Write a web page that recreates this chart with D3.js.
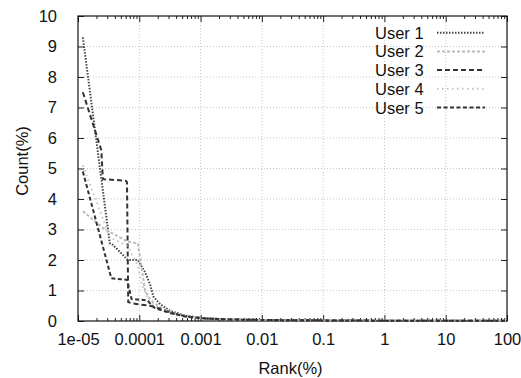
<!DOCTYPE html>
<html>
<head>
<meta charset="utf-8">
<script src="https://cdn.jsdelivr.net/npm/d3@7"></script>
<style>
  body { margin: 0; background: #fff; }
  text { font-family: "Liberation Sans", Arial, sans-serif; }
</style>
</head>
<body>
<svg id="chart" width="521" height="378"></svg>
<script>
const userNames = ["User 1", "User 2", "User 3", "User 4", "User 5"];

const xTickValues = [1e-5, 1e-4, 1e-3, 1e-2, 0.1, 1, 10, 100];
const xTickLabels = ["1e-05", "0.0001", "0.001", "0.01", "0.1", "1", "10", "100"];
const yTickValues = [0, 1, 2, 3, 4, 5, 6, 7, 8, 9, 10];

const user1Rank = [1.2e-5, 3.3e-5, 3.7e-5, 6.5e-5, 9.5e-5, 1.24e-4, 1.5e-4, 1.7e-4, 2.2e-4, 3.2e-4, 5.8e-4, 1.2e-3, 3e-3, 1.3e-2, 0.1, 1, 10, 100];
const user1Count = [9.3, 2.55, 2.5, 2.0, 2.0, 1.6, 1.2, 0.8, 0.55, 0.33, 0.17, 0.09, 0.05, 0.03, 0.02, 0.01, 0.01, 0.005];

const user2Rank = [1.2e-5, 2.75e-5, 6.5e-5, 9.5e-5, 1.1e-4, 1.24e-4, 1.5e-4, 2.2e-4, 3.2e-4, 5.8e-4, 1.2e-3, 3e-3, 1.3e-2, 0.1, 1, 10, 100];
const user2Count = [3.6, 3.0, 2.6, 2.55, 1.7, 1.0, 0.7, 0.45, 0.3, 0.16, 0.09, 0.05, 0.03, 0.02, 0.01, 0.01, 0.005];

const user3Rank = [1.2e-5, 2.4e-5, 2.55e-5, 6.0e-5, 6.3e-5, 6.6e-5, 7.5e-5, 9.5e-5, 1.5e-4, 2.2e-4, 3.2e-4, 5.8e-4, 1.2e-3, 3e-3, 1.3e-2, 0.1, 1, 10, 100];
const user3Count = [7.5, 5.6, 4.65, 4.6, 4.55, 0.62, 0.58, 0.55, 0.5, 0.4, 0.28, 0.15, 0.08, 0.05, 0.03, 0.02, 0.01, 0.01, 0.005];

const user4Rank = [1.2e-5, 2.4e-5, 3.3e-5, 6.5e-5, 9.5e-5, 1.1e-4, 1.5e-4, 2.2e-4, 3.2e-4, 5.8e-4, 1.2e-3, 3e-3, 1.3e-2, 0.1, 1, 10, 100];
const user4Count = [5.1, 3.5, 2.75, 2.45, 1.8, 1.2, 0.6, 0.4, 0.27, 0.15, 0.08, 0.05, 0.03, 0.02, 0.01, 0.01, 0.005];

const user5Rank = [1.2e-5, 3.5e-5, 6.3e-5, 7.5e-5, 1.34e-4, 1.8e-4, 3.2e-4, 5.8e-4, 1.2e-3, 3e-3, 1.3e-2, 0.1, 1, 10, 100];
const user5Count = [4.9, 1.4, 1.35, 0.72, 0.68, 0.42, 0.26, 0.14, 0.08, 0.05, 0.03, 0.02, 0.01, 0.01, 0.005];

const series = [
  {name: userNames[0], rank: user1Rank, count: user1Count, color: "#444", dash: "1.5,1.5"},
  {name: userNames[1], rank: user2Rank, count: user2Count, color: "#bbb", dash: "3,2"},
  {name: userNames[2], rank: user3Rank, count: user3Count, color: "#333", dash: "5,3"},
  {name: userNames[3], rank: user4Rank, count: user4Count, color: "#c4c4c4", dash: "1.5,3.5"},
  {name: userNames[4], rank: user5Rank, count: user5Count, color: "#333", dash: "4,2.5"}
];

const svg = d3.select("#chart");
const margin = {top: 16, right: 14, bottom: 57, left: 78};
const width = 521 - margin.left - margin.right;
const height = 378 - margin.top - margin.bottom;
const g = svg.append("g").attr("transform", `translate(${margin.left},${margin.top})`);

const x = d3.scaleLog().domain([1e-5, 100]).range([0, width]);
const y = d3.scaleLinear().domain([0, 10]).range([height, 0]);

// grid
g.selectAll("line.gx")
  .data(xTickValues.slice(1, -1))
  .join("line")
  .attr("x1", d => x(d)).attr("x2", d => x(d))
  .attr("y1", 0).attr("y2", height)
  .attr("stroke", "#c8c8c8").attr("stroke-dasharray", "1,2");
g.selectAll("line.gy")
  .data(yTickValues.slice(1, -1))
  .join("line")
  .attr("x1", 0).attr("x2", width)
  .attr("y1", d => y(d)).attr("y2", d => y(d))
  .attr("stroke", "#c8c8c8").attr("stroke-dasharray", "1,2");

// minor ticks on log axis
const minorTicks = [];
xTickValues.slice(0, -1).forEach(v => {
  for (let k = 2; k <= 9; k++) minorTicks.push(v * k);
});

const xBottom = g.append("g")
  .attr("transform", `translate(0,${height})`)
  .call(d3.axisBottom(x).tickValues(xTickValues).tickFormat((d, i) => xTickLabels[i]).tickSize(-6).tickPadding(12));
const xTop = g.append("g")
  .call(d3.axisTop(x).tickValues(xTickValues).tickFormat("").tickSize(-6));
g.append("g").attr("transform", `translate(0,${height})`)
  .call(d3.axisBottom(x).tickValues(minorTicks).tickFormat("").tickSize(-3));
g.append("g")
  .call(d3.axisTop(x).tickValues(minorTicks).tickFormat("").tickSize(-3));
const yLeft = g.append("g")
  .call(d3.axisLeft(y).tickValues(yTickValues).tickSize(-6).tickPadding(21));
g.append("g").attr("transform", `translate(${width},0)`)
  .call(d3.axisRight(y).tickValues(yTickValues).tickFormat("").tickSize(-6));

g.selectAll(".domain").attr("stroke", "none");
g.selectAll(".tick line").attr("stroke", "#222");
g.selectAll(".tick text").attr("font-size", 16.5).attr("fill", "#111")
  .attr("font-family", "'Liberation Sans', Arial, sans-serif");

g.append("rect")
  .attr("width", width).attr("height", height)
  .attr("fill", "none").attr("stroke", "#111").attr("stroke-width", 1.2);

// series lines
const line = d3.line()
  .x(d => x(d[0]))
  .y(d => y(d[1]));

g.selectAll("path.series")
  .data(series)
  .join("path")
  .attr("class", "series")
  .attr("d", d => line(d.rank.map((r, i) => [r, d.count[i]])))
  .attr("fill", "none")
  .attr("stroke", d => d.color)
  .attr("stroke-width", 2)
  .attr("stroke-dasharray", d => d.dash);

// legend
const legend = g.append("g").attr("transform", "translate(297,16.7)");
const rows = legend.selectAll("g")
  .data(series)
  .join("g")
  .attr("transform", (d, i) => `translate(0,${i * 18.7})`);
rows.append("text")
  .attr("x", 0).attr("y", 6)
  .attr("font-size", 16.5).attr("fill", "#111")
  .text(d => d.name);
rows.append("line")
  .attr("x1", 62).attr("x2", 110)
  .attr("stroke", d => d.color)
  .attr("stroke-width", 2)
  .attr("stroke-dasharray", d => d.dash);

// axis titles
svg.append("text")
  .attr("x", margin.left + width / 2 - 2).attr("y", 374)
  .attr("text-anchor", "middle").attr("font-size", 16.5).attr("fill", "#111")
  .text("Rank(%)");
svg.append("text")
  .attr("transform", "translate(28,161) rotate(-90)")
  .attr("text-anchor", "middle").attr("font-size", 16.5).attr("fill", "#111")
  .text("Count(%)");
</script>
</body>
</html>
